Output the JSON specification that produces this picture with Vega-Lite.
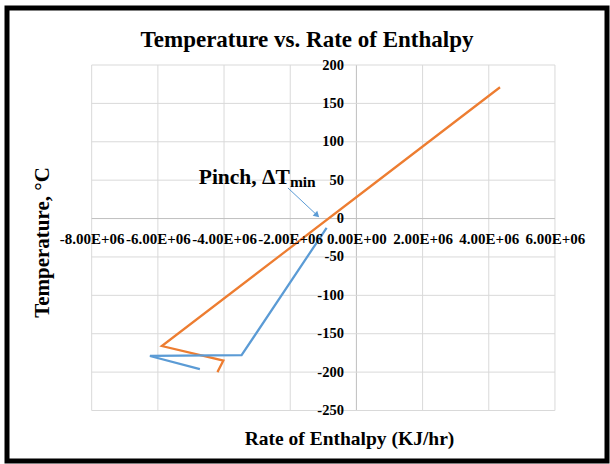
{
  "$schema": "https://vega.github.io/schema/vega-lite/v6.json",
  "width": 610,
  "height": 464,
  "autosize": {"type": "fit", "contains": "padding"},
  "padding": {"left": 7, "top": 8, "right": 3, "bottom": 3},
  "background": "white",
  "title": {
    "text": "Temperature  vs. Rate of Enthalpy",
    "font": "Liberation Serif",
    "fontSize": 23,
    "fontWeight": "bold",
    "color": "black",
    "anchor": "middle",
    "frame": "group",
    "orient": "top",
    "offset": -62,
    "baseline": "alphabetic"
  },
  "datasets": {
    "gridX": [
      {"x": -8000000}, {"x": -6000000}, {"x": -4000000}, {"x": -2000000},
      {"x": 0}, {"x": 2000000}, {"x": 4000000}, {"x": 6000000}
    ],
    "gridY": [
      {"y": -250}, {"y": -200}, {"y": -150}, {"y": -100}, {"y": -50},
      {"y": 0}, {"y": 50}, {"y": 100}, {"y": 150}, {"y": 200}
    ],
    "streams": [
      {"stream": "Hot composite", "q": 4340000, "t": 171},
      {"stream": "Hot composite", "q": 550000, "t": 46},
      {"stream": "Hot composite", "q": -5880000, "t": -166},
      {"stream": "Hot composite", "q": -4020000, "t": -185},
      {"stream": "Hot composite", "q": -4200000, "t": -200},
      {"stream": "Cold composite", "q": -900000, "t": -12},
      {"stream": "Cold composite", "q": -3470000, "t": -178},
      {"stream": "Cold composite", "q": -6240000, "t": -179},
      {"stream": "Cold composite", "q": -4730000, "t": -196}
    ],
    "annotation": [{"label": "Pinch, ΔT", "sub": "min"}]
  },
  "config": {
    "view": {"stroke": "black", "strokeWidth": 5},
    "axisX": {
      "zindex": 2,
      "offset": -242.45,
      "domain": false,
      "ticks": false,
      "tickSize": 0,
      "grid": false,
      "labelFont": "Liberation Serif",
      "labelFontSize": 15,
      "labelFontWeight": "bold",
      "labelColor": "black",
      "labelBaseline": "alphabetic",
      "labelPadding": 24.5,
      "labelOverlap": false,
      "labelFlush": false,
      "labelBound": false,
      "titleFont": "Liberation Serif",
      "titleFontSize": 19.5,
      "titleFontWeight": "bold",
      "titleColor": "black",
      "titleX": 342,
      "titleY": 226,
      "titleBaseline": "alphabetic",
      "titleAlign": "center"
    },
    "axisY": {
      "zindex": 2,
      "offset": -349.4,
      "domain": false,
      "ticks": false,
      "tickSize": 0,
      "grid": false,
      "labelFont": "Liberation Serif",
      "labelFontSize": 14.5,
      "labelFontWeight": "bold",
      "labelColor": "black",
      "labelPadding": 13,
      "labelOverlap": false,
      "labelFlush": false,
      "labelBound": false,
      "titleFont": "Liberation Serif",
      "titleFontSize": 21,
      "titleFontWeight": "bold",
      "titleColor": "black",
      "titleX": -308.4,
      "titleY": 234,
      "titleAngle": -90,
      "titleBaseline": "alphabetic",
      "titleAlign": "center"
    }
  },
  "layer": [
    {
      "data": {"name": "gridX"},
      "mark": {"type": "rule", "strokeWidth": 1},
      "encoding": {
        "x": {"field": "x", "type": "quantitative",
          "scale": {"domain": [-10559000, 7573000], "nice": false, "zero": false},
          "axis": {"zindex": 2, "title": "Rate of Enthalpy (KJ/hr)", "values": [-8000000, -6000000, -4000000, -2000000, 0, 2000000, 4000000, 6000000], "labelExpr": "datum.value == 0 ? '0.00E+00' : (datum.value/1000000) + '.00E+06'"}},
        "y": {"datum": -250, "type": "quantitative",
          "scale": {"domain": [-315.77, 274.24], "nice": false, "zero": false},
          "axis": {"zindex": 2, "title": "Temperature, °C", "values": [-250, -200, -150, -100, -50, 0, 50, 100, 150, 200], "labelExpr": "'' + datum.value"}},
        "y2": {"datum": 200},
        "color": {"condition": {"test": "datum.x == 0", "value": "#bfbfbf"}, "value": "#d9d9d9"}
      }
    },
    {
      "data": {"name": "gridY"},
      "mark": {"type": "rule", "strokeWidth": 1},
      "encoding": {
        "y": {"field": "y", "type": "quantitative",
          "scale": {"domain": [-315.77, 274.24], "nice": false, "zero": false},
          "axis": {"zindex": 2, "title": "Temperature, °C", "values": [-250, -200, -150, -100, -50, 0, 50, 100, 150, 200], "labelExpr": "'' + datum.value"}},
        "x": {"datum": -8000000, "type": "quantitative",
          "scale": {"domain": [-10559000, 7573000], "nice": false, "zero": false},
          "axis": {"zindex": 2, "title": "Rate of Enthalpy (KJ/hr)", "values": [-8000000, -6000000, -4000000, -2000000, 0, 2000000, 4000000, 6000000], "labelExpr": "datum.value == 0 ? '0.00E+00' : (datum.value/1000000) + '.00E+06'"}},
        "x2": {"datum": 6000000},
        "color": {"condition": {"test": "datum.y == 0", "value": "#bfbfbf"}, "value": "#d9d9d9"}
      }
    },
    {
      "data": {"name": "streams"},
      "mark": {"type": "line", "strokeWidth": 2.25},
      "encoding": {
        "x": {"field": "q", "type": "quantitative",
          "scale": {"domain": [-10559000, 7573000], "nice": false, "zero": false},
          "axis": {"zindex": 2, "title": "Rate of Enthalpy (KJ/hr)", "values": [-8000000, -6000000, -4000000, -2000000, 0, 2000000, 4000000, 6000000], "labelExpr": "datum.value == 0 ? '0.00E+00' : (datum.value/1000000) + '.00E+06'"}},
        "y": {"field": "t", "type": "quantitative",
          "scale": {"domain": [-315.77, 274.24], "nice": false, "zero": false},
          "axis": {"zindex": 2, "title": "Temperature, °C", "values": [-250, -200, -150, -100, -50, 0, 50, 100, 150, 200], "labelExpr": "'' + datum.value"}},
        "color": {"field": "stream", "type": "nominal",
          "scale": {"domain": ["Hot composite", "Cold composite"], "range": ["#ED7D31", "#5B9BD5"]},
          "legend": null},
        "order": {"value": null}
      }
    },
    {
      "data": {"name": "annotation"},
      "mark": {"type": "rule", "strokeWidth": 1, "color": "#5B9BD5"},
      "encoding": {
        "x": {"datum": -2070000, "type": "quantitative"},
        "y": {"datum": 39.9, "type": "quantitative"},
        "x2": {"datum": -1188000},
        "y2": {"datum": 4.3}
      }
    },
    {
      "data": {"name": "annotation"},
      "mark": {"type": "point", "shape": "triangle-up", "angle": 133, "size": 45, "filled": true, "opacity": 1, "color": "#5B9BD5"},
      "encoding": {
        "x": {"datum": -1188000, "type": "quantitative"},
        "y": {"datum": 4.3, "type": "quantitative"}
      }
    },
    {
      "data": {"name": "annotation"},
      "mark": {"type": "text", "align": "right", "baseline": "alphabetic", "font": "Liberation Serif", "fontSize": 21.5, "fontWeight": "bold", "color": "black"},
      "encoding": {
        "x": {"datum": -2010000, "type": "quantitative"},
        "y": {"datum": 45.5, "type": "quantitative"},
        "text": {"field": "label"}
      }
    },
    {
      "data": {"name": "annotation"},
      "mark": {"type": "text", "align": "left", "baseline": "alphabetic", "font": "Liberation Serif", "fontSize": 15.5, "fontWeight": "bold", "color": "black"},
      "encoding": {
        "x": {"datum": -2010000, "type": "quantitative"},
        "y": {"datum": 41.5, "type": "quantitative"},
        "text": {"field": "sub"}
      }
    }
  ]
}
